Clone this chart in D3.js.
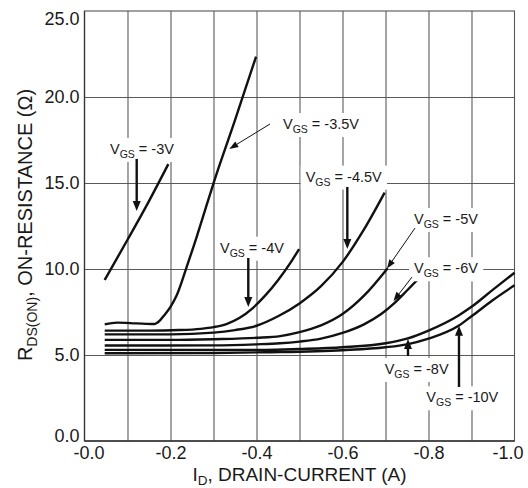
<!DOCTYPE html>
<html><head><meta charset="utf-8">
<script src="https://cdn.jsdelivr.net/npm/d3@7/dist/d3.min.js"></script>
<style>
html,body{margin:0;padding:0;background:#fff;}
svg{display:block;font-family:"Liberation Sans",Arial,Helvetica,sans-serif;}
text{white-space:pre;}
</style></head><body>
<svg id="chart" width="528" height="488"></svg>
<script>
// ---------- data ----------
const xTicks = [0, -0.2, -0.4, -0.6, -0.8, -1.0];
const xTickLabels = ["-0.0", "-0.2", "-0.4", "-0.6", "-0.8", "-1.0"];
const xGridValues = [-0.1, -0.2, -0.3, -0.4, -0.5, -0.6, -0.7, -0.8, -0.9];
const yTicks = [0, 5, 10, 15, 20, 25];
const yTickLabels = ["0.0", "5.0", "10.0", "15.0", "20.0", "25.0"];
const yGridValues = [5, 10, 15, 20];

const vgsNames = ["-3V", "-3.5V", "-4V", "-4.5V", "-5V", "-6V", "-8V", "-10V"];

const id_3V   = [-0.047, -0.1, -0.15, -0.195];
const r_3V    = [9.36, 11.7, 13.95, 16.1];

const id_3_5V = [-0.047, -0.076, -0.12, -0.162, -0.175, -0.185, -0.2, -0.215, -0.24, -0.26, -0.28, -0.30, -0.35, -0.399];
const r_3_5V  = [6.78, 6.88, 6.84, 6.80, 7.0, 7.3, 7.8, 8.5, 10.3, 11.8, 13.4, 14.98, 18.65, 22.35];

const id_4V   = [-0.047, -0.15, -0.22, -0.27, -0.30, -0.33, -0.36, -0.39, -0.42, -0.45, -0.48, -0.499];
const r_4V    = [6.42, 6.42, 6.45, 6.52, 6.62, 6.8, 7.15, 7.7, 8.45, 9.35, 10.4, 11.16];

const id_4_5V = [-0.047, -0.2, -0.3, -0.35, -0.4, -0.45, -0.5, -0.55, -0.6, -0.65, -0.698];
const r_4_5V  = [6.2, 6.2, 6.3, 6.45, 6.7, 7.25, 8.0, 9.0, 10.4, 12.3, 14.44];

const id_5V   = [-0.047, -0.2, -0.3, -0.4, -0.455, -0.5, -0.55, -0.6, -0.65, -0.705];
const r_5V    = [5.88, 5.88, 5.92, 6.0, 6.1, 6.33, 6.72, 7.38, 8.45, 10.05];

const id_6V   = [-0.047, -0.3, -0.4, -0.455, -0.5, -0.55, -0.6, -0.65, -0.69, -0.72, -0.75, -0.78];
const r_6V    = [5.55, 5.56, 5.62, 5.68, 5.78, 5.95, 6.28, 6.78, 7.38, 8.0, 8.75, 9.52];

const id_8V   = [-0.047, -0.3, -0.42, -0.5, -0.6, -0.7, -0.75, -0.8, -0.87, -0.9, -0.95, -1.0];
const r_8V    = [5.3, 5.3, 5.3, 5.35, 5.45, 5.68, 5.95, 6.42, 7.3, 7.8, 8.8, 9.78];

const id_10V  = [-0.047, -0.3, -0.42, -0.6, -0.7, -0.75, -0.8, -0.87, -0.9, -0.95, -1.0];
const r_10V   = [5.1, 5.12, 5.16, 5.28, 5.45, 5.62, 5.95, 6.7, 7.25, 8.2, 9.05];

const seriesI = [id_3V, id_3_5V, id_4V, id_4_5V, id_5V, id_6V, id_8V, id_10V];
const seriesR = [r_3V, r_3_5V, r_4V, r_4_5V, r_5V, r_6V, r_8V, r_10V];

// annotation anchors in data units: label text start (I, R) and arrow from/to
const labelI = [-0.0593, -0.4616, -0.3151, -0.5144, -0.7663, -0.7663, -0.6981, -0.7949];
const labelR = [16.69, 18.14, 10.95, 15.08, 12.62, 9.75, 3.90, 2.25];
const arrowFromI = [-0.1214, -0.4314, -0.3809, -0.6112, -0.7686, -0.7616, -0.7523, -0.8709];
const arrowFromR = [16.40, 18.43, 10.64, 14.77, 12.38, 9.53, 4.94, 3.14];
const arrowToI   = [-0.1214, -0.3367, -0.3809, -0.6112, -0.7035, -0.7186, -0.7523, -0.8709];
const arrowToR   = [13.37, 16.98, 7.79, 11.16, 10.03, 8.14, 5.93, 6.70];
const arrowThin  = [false, true, false, false, true, true, false, false];

// ---------- layout ----------
const pLeft = 84.5, pRight = 514.5, pTop = 11, pBottom = 441;
const svg = d3.select("#chart");

const x = d3.scaleLinear().domain([0, -1]).range([pLeft, pRight]);
const y = d3.scaleLinear().domain([0, 25]).range([pBottom, pTop]);

const gridColor = "#5a5a5a";

// vertical grid
const gx = svg.append("g").attr("transform", `translate(0,${pBottom})`)
  .call(d3.axisBottom(x).tickValues(xGridValues).tickSize(-(pBottom - pTop)).tickFormat(""));
gx.select(".domain").remove();
gx.selectAll("line").attr("stroke", gridColor).attr("stroke-width", 1.1);

// horizontal grid
const gy = svg.append("g").attr("transform", `translate(${pLeft},0)`)
  .call(d3.axisLeft(y).tickValues(yGridValues).tickSize(-(pRight - pLeft)).tickFormat(""));
gy.select(".domain").remove();
gy.selectAll("line").attr("stroke", gridColor).attr("stroke-width", 1.1);

// frame
svg.append("rect").attr("x", pLeft).attr("y", pTop).attr("width", pRight - pLeft).attr("height", pBottom - pTop)
  .attr("fill", "none").attr("stroke", "#555").attr("stroke-width", 1.1);
svg.append("line").attr("x1", pLeft).attr("x2", pLeft).attr("y1", pTop).attr("y2", pBottom)
  .attr("stroke", "#333").attr("stroke-width", 1.3);
svg.append("line").attr("x1", pLeft).attr("x2", pRight).attr("y1", pBottom).attr("y2", pBottom)
  .attr("stroke", "#333").attr("stroke-width", 1.3);

// tick labels
const tickFont = 18;
const ax = svg.append("g").attr("transform", `translate(0,${pBottom})`)
  .call(d3.axisBottom(x).tickValues(xTicks).tickFormat((d, i) => xTickLabels[i]).tickSize(0).tickPadding(5));
ax.select(".domain").remove();
ax.attr("font-size", tickFont).attr("font-family", null);
ax.selectAll("text").attr("fill", "#1a1a1a")
  .attr("dx", (d, i) => i === 0 ? 4 : (i === xTicks.length - 1 ? -7 : 0));

const ay = svg.append("g").attr("transform", `translate(${pLeft},0)`)
  .call(d3.axisLeft(y).tickValues(yTicks).tickFormat((d, i) => yTickLabels[i]).tickSize(0).tickPadding(5));
ay.select(".domain").remove();
ay.attr("font-size", tickFont).attr("font-family", null);
ay.selectAll("text").attr("fill", "#1a1a1a")
  .attr("dy", (d, i) => i === yTicks.length - 1 ? "0.75em" : (i === 0 ? "0.02em" : "0.33em"));

// axis titles
const xt = svg.append("text").attr("x", (pLeft + pRight) / 2).attr("y", 481)
  .attr("text-anchor", "middle").attr("font-size", 19).attr("fill", "#1a1a1a");
xt.append("tspan").text("I");
xt.append("tspan").attr("font-size", 13.5).attr("dy", 4).text("D");
xt.append("tspan").attr("dy", -4).text(", DRAIN-CURRENT (A)");

const yt = svg.append("text").attr("transform", `translate(32,${(pTop + pBottom) / 2 - 1}) rotate(-90)`)
  .attr("text-anchor", "middle").attr("font-size", 20).attr("fill", "#1a1a1a");
yt.append("tspan").text("R");
yt.append("tspan").attr("font-size", 14).attr("dy", 4.5).text("DS(ON)");
yt.append("tspan").attr("dy", -4.5).text(", ON-RESISTANCE (\u03A9)");

// curves
const line = d3.line().x(d => x(d[0])).y(d => y(d[1])).curve(d3.curveMonotoneX);
seriesI.forEach((ids, k) => {
  const pts = ids.map((v, j) => [v, seriesR[k][j]]);
  svg.append("path").datum(pts).attr("d", line)
    .attr("fill", "none").attr("stroke", "#111").attr("stroke-width", 2.4)
    .attr("stroke-linejoin", "round").attr("stroke-linecap", "butt");
});

// labels with white boxes
const labelLayer = svg.append("g");
vgsNames.forEach((name, k) => {
  const g = labelLayer.append("g");
  const t = g.append("text").attr("x", x(labelI[k])).attr("y", y(labelR[k]))
    .attr("font-size", 14.5).attr("fill", "#1a1a1a");
  t.append("tspan").text("V");
  t.append("tspan").attr("font-size", 10.5).attr("dy", 4).text("GS");
  t.append("tspan").attr("dy", -4).text(" = " + name);
  const bb = t.node().getBBox();
  g.insert("rect", "text").attr("x", bb.x - 5).attr("y", bb.y - 3)
    .attr("width", bb.width + 10).attr("height", bb.height + 5).attr("fill", "#fff");
});

// arrows
vgsNames.forEach((name, k) => {
  const x1 = x(arrowFromI[k]), y1 = y(arrowFromR[k]);
  const x2 = x(arrowToI[k]), y2 = y(arrowToR[k]);
  const thin = arrowThin[k];
  const len = thin ? 9 : 10, hw = thin ? 3.3 : 4;
  const dx = x2 - x1, dy = y2 - y1, L = Math.hypot(dx, dy);
  const ux = dx / L, uy = dy / L;
  const bx = x2 - ux * len, by = y2 - uy * len;
  svg.append("line").attr("x1", x1).attr("y1", y1).attr("x2", bx + ux * 1).attr("y2", by + uy * 1)
    .attr("stroke", "#111").attr("stroke-width", thin ? 1 : 2.4);
  svg.append("polygon")
    .attr("points", [[x2, y2], [bx - uy * hw, by + ux * hw], [bx + uy * hw, by - ux * hw]].map(p => p.join(",")).join(" "))
    .attr("fill", "#111");
});
</script>
</body></html>
